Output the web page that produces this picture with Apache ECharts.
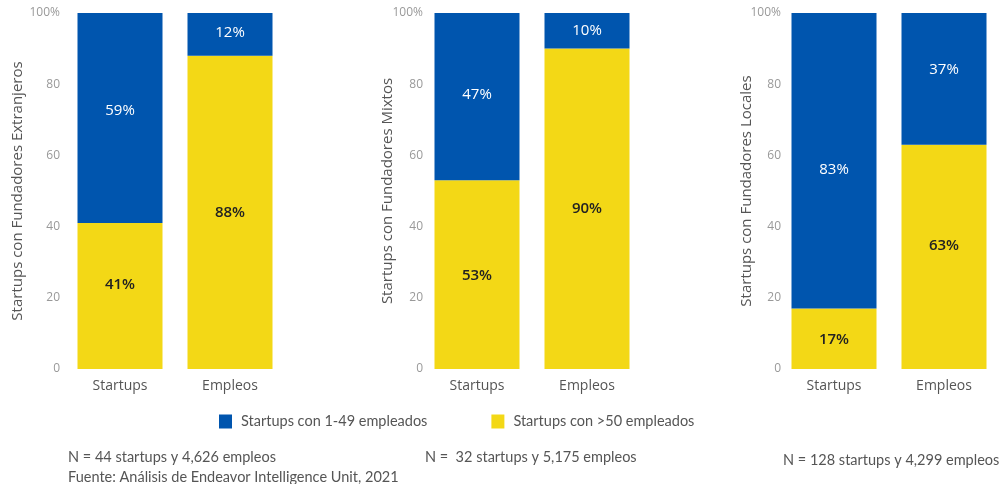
<!DOCTYPE html>
<html><head><meta charset="utf-8">
<script src="https://cdn.jsdelivr.net/npm/echarts@6/dist/echarts.min.js"></script>
<style>html,body{margin:0;padding:0;background:#fff}#c{width:1000px;height:484px}</style>
</head><body><div id="c"></div>
<script>
const categories = ['Startups', 'Empleos'];
const panelNames = ['Startups con Fundadores Extranjeros', 'Startups con Fundadores Mixtos', 'Startups con Fundadores Locales'];
const seriesNames = ['Startups con 1-49 empleados', 'Startups con >50 empleados'];
const smallValues = [[59, 12], [47, 10], [83, 37]];
const largeValues = [[41, 88], [53, 90], [17, 63]];
const notes = ['N = 44 startups y 4,626 empleos', 'N =  32 startups y 5,175 empleos', 'N = 128 startups y 4,299 empleos'];
const source = 'Fuente: Análisis de Endeavor Intelligence Unit, 2021';

const BLUE = '#0055AE', YELLOW = '#F3D816';
const FONT = 'Open Sans';
const lefts = [65, 422, 779];
const nameGaps = [40, 27, 25];
const labelMargins = [5, -1, -2];
// label vertical nudges (px) as placed in the original
const smallLabelShift = [[-7, -2], [-2, 0], [9, -9]];
const largeLabelShift = [[-11, 0], [1, 0], [1, -11]];

const grid = [], xAxis = [], yAxis = [], series = [];
for (let i = 0; i < 3; i++) {
  grid.push({left: lefts[i], width: 220, top: 13, height: 356});
  xAxis.push({type: 'category', gridIndex: i, data: categories,
    axisLine: {show: false}, axisTick: {show: false},
    axisLabel: {color: '#555', fontSize: 14, fontFamily: FONT, margin: 10}});
  yAxis.push({type: 'value', gridIndex: i, min: 0, max: 100, interval: 20,
    name: panelNames[i], nameLocation: 'middle', nameGap: nameGaps[i], nameMoveOverlap: false,
    nameTextStyle: {color: '#555', fontSize: 15, fontFamily: FONT},
    axisLine: {show: false}, axisTick: {show: false}, splitLine: {show: false},
    axisLabel: {color: '#999', fontSize: 12, fontFamily: FONT, margin: labelMargins[i],
      formatter: v => v === 100 ? '100%' : String(v)}});
  series.push({name: seriesNames[1], type: 'bar', stack: 's' + i, xAxisIndex: i, yAxisIndex: i,
    data: largeValues[i].map((v, j) => ({value: v, label: {offset: [0, largeLabelShift[i][j]]}})),
    barWidth: 85, itemStyle: {color: YELLOW},
    label: {show: true, position: 'inside', formatter: '{c}%', color: '#222', fontSize: 15, fontWeight: 600, fontFamily: FONT}});
  series.push({name: seriesNames[0], type: 'bar', stack: 's' + i, xAxisIndex: i, yAxisIndex: i,
    data: smallValues[i].map((v, j) => ({value: v, label: {offset: [0, smallLabelShift[i][j]]}})),
    barWidth: 85, itemStyle: {color: BLUE},
    label: {show: true, position: 'inside', formatter: '{c}%', color: '#fff', fontSize: 15, fontFamily: FONT}});
}

const noteStyle = {color: '#555', fontSize: 14.5, fontFamily: 'Lato', fontWeight: 'normal'};
const chart = echarts.init(document.getElementById('c'), null, {renderer: 'canvas'});
chart.setOption({
  animation: false,
  grid, xAxis, yAxis, series,
  legend: {data: seriesNames, left: 219, top: 414, padding: 0, itemWidth: 13, itemHeight: 14, itemGap: 64,
    icon: 'rect', textStyle: {color: '#555', fontSize: 14.5, fontFamily: 'Lato', padding: [0, 0, 0, 4]}},
  title: [
    {text: notes[0], left: 68, top: 450, padding: 0, textStyle: noteStyle},
    {text: source, left: 68, top: 470, padding: 0, textStyle: noteStyle},
    {text: notes[1], left: 425, top: 450, padding: 0, textStyle: noteStyle},
    {text: notes[2], left: 783, top: 453, padding: 0, textStyle: noteStyle}
  ]
});
</script></body></html>
